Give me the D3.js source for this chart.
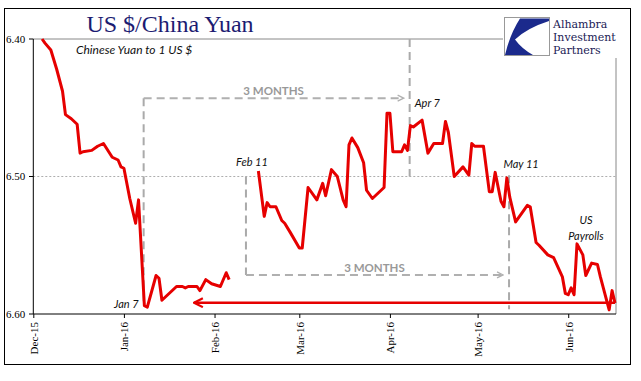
<!DOCTYPE html>
<html>
<head>
<meta charset="utf-8">
<script src="https://cdn.jsdelivr.net/npm/d3@7"></script>
<style>
    body { margin: 0; background: #fff; }
    svg { display: block; }
</style>
</head>
<body>
<svg id="chart"></svg>
<script>
// Yuan per 1 US $, Dec 2015 - Jun 2016 (y axis runs upside down)

const dates = [
    "2015-12-04", "2015-12-05", "2015-12-07", "2015-12-09", "2015-12-11", "2015-12-12",
    "2015-12-14", "2015-12-16", "2015-12-17", "2015-12-18", "2015-12-21", "2015-12-23",
    "2015-12-25", "2015-12-28", "2015-12-30", "2015-12-31", "2016-01-01", "2016-01-03",
    "2016-01-05", "2016-01-06", "2016-01-08", "2016-01-09", "2016-01-12", "2016-01-13",
    "2016-01-14", "2016-01-17", "2016-01-19", "2016-01-21", "2016-01-22", "2016-01-23",
    "2016-01-26", "2016-01-27", "2016-01-29", "2016-01-31", "2016-02-03", "2016-02-05",
    "2016-02-06", "2016-02-10",
    "2016-02-16", "2016-02-18", "2016-02-19", "2016-02-20", "2016-02-22", "2016-02-24",
    "2016-02-25", "2016-02-27", "2016-03-01", "2016-03-02", "2016-03-04", "2016-03-07",
    "2016-03-09", "2016-03-10", "2016-03-12", "2016-03-14", "2016-03-16", "2016-03-17",
    "2016-03-18", "2016-03-19", "2016-03-21", "2016-03-23", "2016-03-24", "2016-03-26",
    "2016-03-28", "2016-03-30", "2016-03-31", "2016-04-01", "2016-04-02", "2016-04-05",
    "2016-04-06", "2016-04-07", "2016-04-08", "2016-04-09", "2016-04-12", "2016-04-14",
    "2016-04-16", "2016-04-19", "2016-04-20", "2016-04-21", "2016-04-23", "2016-04-26",
    "2016-04-28", "2016-04-29", "2016-04-30", "2016-05-03", "2016-05-05", "2016-05-06",
    "2016-05-07", "2016-05-09", "2016-05-10", "2016-05-11", "2016-05-12", "2016-05-14",
    "2016-05-18", "2016-05-19", "2016-05-21", "2016-05-22", "2016-05-25", "2016-05-27",
    "2016-05-30", "2016-05-31", "2016-06-01", "2016-06-02", "2016-06-03", "2016-06-04",
    "2016-06-06", "2016-06-07", "2016-06-09", "2016-06-11", "2016-06-12", "2016-06-15",
    "2016-06-16", "2016-06-17"
]

const yuan = [
    6.400, 6.403, 6.408, 6.422, 6.438, 6.455,
    6.458, 6.462, 6.483, 6.482, 6.481, 6.478,
    6.476, 6.486, 6.488, 6.493, 6.494, 6.516,
    6.534, 6.517, 6.594, 6.595, 6.572, 6.574,
    6.590, 6.584, 6.580, 6.580, 6.581, 6.580,
    6.580, 6.583, 6.575, 6.578, 6.580, 6.570,
    6.575, null,   // gap: lunar new year holiday
    6.496, 6.529, 6.519, 6.522, 6.522, 6.532,
    6.534, 6.541, 6.552, 6.552, 6.508, 6.517,
    6.505, 6.514, 6.495, 6.500, 6.517, 6.522,
    6.477, 6.472, 6.479, 6.490, 6.510, 6.516,
    6.512, 6.508, 6.454, 6.454, 6.482, 6.482,
    6.477, 6.481, 6.463, 6.464, 6.459, 6.483,
    6.476, 6.476, 6.460, 6.468, 6.500, 6.493,
    6.499, 6.476, 6.478, 6.478, 6.511, 6.511,
    6.497, 6.518, 6.522, 6.501, 6.515, 6.533,
    6.521, 6.522, 6.548, 6.550, 6.557, 6.559,
    6.573, 6.585, 6.586, 6.581, 6.586, 6.549,
    6.557, 6.572, 6.563, 6.564, 6.573, 6.597,
    6.583, 6.592
]

const yTicks = [6.40, 6.50, 6.60]
const monthTicks = ["2015-12-01", "2016-01-01", "2016-02-01", "2016-03-01", "2016-04-01", "2016-05-01", "2016-06-01"]

// dashed event lines: date, top value, bottom value
const eventDates = ["2016-01-07", "2016-02-11", "2016-04-07", "2016-05-11"]
const eventTop = [6.443, 6.500, 6.400, 6.499]
const eventBottom = [6.594, 6.5716, 6.500, 6.5965]

// "3 MONTHS" brackets
const spanFrom = ["2016-01-07", "2016-02-11"]
const spanTo = ["2016-04-07", "2016-05-11"]
const spanLevel = [6.443, 6.5716]

// red arrow back to the January low
const lowLevel = 6.5918
const arrowFrom = "2016-06-17"
const arrowTo = "2016-01-25"

const W = 641, H = 381
const parse = d3.timeParse("%Y-%m-%d")

const data = dates.map((d, i) => ({ date: parse(d), value: yuan[i] }))

const svg = d3.select("#chart").attr("width", W).attr("height", H)

const x = d3.scaleTime()
    .domain([parse("2015-12-01"), parse("2016-06-17")])
    .range([33.3, 615])

const y = d3.scaleLinear()
    .domain([6.40, 6.60])
    .range([39, 314])

// shift event lines a bit into the day, like the hand-drawn shapes
const eventX = d => x(d3.timeHour.offset(parse(d), 18))

const serif = "'Liberation Serif', 'Times New Roman', serif"
const sans = "Lato, 'Open Sans', sans-serif"

// outer frame
svg.append("rect")
    .attr("x", 4.5).attr("y", 8.5)
    .attr("width", 626).attr("height", 356)
    .attr("fill", "none").attr("stroke", "#000")

// plot frame (top and right, grey)
svg.append("line")
    .attr("x1", x.range()[0]).attr("x2", 503)
    .attr("y1", y(6.40)).attr("y2", y(6.40))
    .attr("stroke", "#888").attr("stroke-width", 1)
svg.append("line")
    .attr("x1", 616).attr("x2", 616)
    .attr("y1", 58).attr("y2", y(6.60))
    .attr("stroke", "#888").attr("stroke-width", 1)

// middle grid line
svg.append("line")
    .attr("x1", x.range()[0]).attr("x2", 616)
    .attr("y1", y(6.50)).attr("y2", y(6.50))
    .attr("stroke", "#999").attr("stroke-width", 0.8)
    .attr("stroke-dasharray", "2,2")

// title
svg.append("text")
    .attr("x", 170).attr("y", 32)
    .attr("text-anchor", "middle")
    .style("font-family", serif).style("font-size", "24px")
    .attr("fill", "#1c1c72")
    .text("US $/China Yuan")

svg.append("text")
    .attr("x", 76).attr("y", 54)
    .style("font-family", sans).style("font-size", "12px").style("font-style", "italic")
    .attr("fill", "#111")
    .text("Chinese Yuan to 1 US $")

// logo
const logo = svg.append("g")
logo.append("rect")
    .attr("x", 504.5).attr("y", 17.5).attr("width", 45).attr("height", 38)
    .attr("fill", "#fff").attr("stroke", "#999")
logo.append("path")
    .attr("d", "M520,18.5 L549,18.5 L549,21 Q527,28 515,39.5 Q521.5,48.5 533,55 L505,55 Q510,34 520,18.5 Z")
    .attr("fill", "#1b2a8c")
logo.selectAll("text.logo")
    .data(["Alhambra", "Investment", "Partners"])
    .enter()
    .append("text")
    .attr("class", "logo")
    .attr("x", 553)
    .attr("y", (d, i) => 28 + i * 13)
    .style("font-family", "'DejaVu Serif', serif").style("font-size", "11px")
    .attr("fill", "#1a1a55")
    .text(d => d)

// y axis
svg.append("line")
    .attr("x1", x.range()[0]).attr("x2", x.range()[0])
    .attr("y1", y(6.40)).attr("y2", y(6.60))
    .attr("stroke", "#000")
svg.selectAll("line.ytick")
    .data(yTicks)
    .enter()
    .append("line")
    .attr("class", "ytick")
    .attr("x1", 29).attr("x2", x.range()[0])
    .attr("y1", d => y(d)).attr("y2", d => y(d))
    .attr("stroke", "#000")
svg.selectAll("text.ylab")
    .data(yTicks)
    .enter()
    .append("text")
    .attr("class", "ylab")
    .attr("x", 6)
    .attr("y", d => y(d))
    .attr("dy", "0.35em")
    .style("font-family", serif).style("font-size", "11px")
    .attr("fill", "#000")
    .text(d => d.toFixed(2))

// x axis
const xAxis = d3.axisBottom(x)
    .tickValues(monthTicks.map(parse))
    .tickFormat(d3.timeFormat("%b-%y"))
    .tickSize(4)
    .tickSizeOuter(0)

const gx = svg.append("g")
    .attr("transform", `translate(0,${y(6.60)})`)
    .call(xAxis)

gx.select(".domain").attr("d", `M${x.range()[0]},0H616`).attr("stroke", "#000")
gx.selectAll(".tick line").attr("stroke", "#000")
gx.selectAll(".tick text")
    .attr("transform", "rotate(-90)")
    .attr("x", -8).attr("y", 0).attr("dy", "0.35em")
    .attr("text-anchor", "end")
    .style("font-family", serif).style("font-size", "11px")
    .attr("fill", "#000")

// arrow heads
const defs = svg.append("defs")
defs.append("marker")
    .attr("id", "greyHead")
    .attr("viewBox", "0 0 8 8")
    .attr("refX", 7).attr("refY", 4)
    .attr("markerWidth", 8).attr("markerHeight", 8)
    .attr("markerUnits", "userSpaceOnUse")
    .attr("orient", "auto")
    .append("path")
    .attr("d", "M1,1 L7,4 L1,7")
    .attr("fill", "none").attr("stroke", "#b0b0b0").attr("stroke-width", 1.3)
defs.append("marker")
    .attr("id", "redHead")
    .attr("viewBox", "0 0 10 10")
    .attr("refX", 9).attr("refY", 5)
    .attr("markerWidth", 11).attr("markerHeight", 11)
    .attr("markerUnits", "userSpaceOnUse")
    .attr("orient", "auto")
    .append("path")
    .attr("d", "M1,1 L9,5 L1,9")
    .attr("fill", "none").attr("stroke", "#e60000").attr("stroke-width", 2)

// dashed event lines
svg.selectAll("line.event")
    .data(eventDates)
    .enter()
    .append("line")
    .attr("class", "event")
    .attr("x1", d => eventX(d)).attr("x2", d => eventX(d))
    .attr("y1", (d, i) => y(eventTop[i]))
    .attr("y2", (d, i) => y(eventBottom[i]))
    .attr("stroke", "#aaa").attr("stroke-width", 2)
    .attr("stroke-dasharray", "8,5")

// 3 month brackets
spanFrom.forEach((d, i) => {
    const x0 = eventX(d)
    const x1 = eventX(spanTo[i]) - 6
    svg.append("line")
        .attr("x1", x0).attr("x2", x1)
        .attr("y1", y(spanLevel[i])).attr("y2", y(spanLevel[i]))
        .attr("stroke", "#b0b0b0").attr("stroke-width", 2)
        .attr("stroke-dasharray", "8,5")
        .attr("marker-end", "url(#greyHead)")
    svg.append("text")
        .attr("x", (x0 + x1) / 2)
        .attr("y", y(spanLevel[i]) - 3)
        .attr("text-anchor", "middle")
        .style("font-family", sans).style("font-size", "11.5px").style("font-weight", "bold")
        .attr("fill", "#999")
        .text("3 MONTHS")
})

// red arrow back to the low
svg.append("line")
    .attr("x1", x(parse(arrowFrom))).attr("x2", x(parse(arrowTo)))
    .attr("y1", y(lowLevel)).attr("y2", y(lowLevel))
    .attr("stroke", "#e60000").attr("stroke-width", 2.5)
    .attr("marker-end", "url(#redHead)")

// the yuan line
const line = d3.line()
    .defined(d => d.value != null)
    .x(d => x(d.date))
    .y(d => y(d.value))

svg.append("path")
    .datum(data)
    .attr("d", line)
    .attr("fill", "none")
    .attr("stroke", "#e60000")
    .attr("stroke-width", 3)
    .attr("stroke-linejoin", "round")

// labels
const note = (txt, px, py, anchor) => svg.append("text")
    .attr("x", px).attr("y", py)
    .attr("text-anchor", anchor)
    .style("font-family", sans).style("font-size", "11px").style("font-style", "italic")
    .attr("fill", "#111")
    .text(txt)

note("Jan 7", eventX(eventDates[0]) - 5, y(6.5956), "end")
note("Feb 11", eventX(eventDates[1]) + 6, y(6.4924), "middle")
note("Apr 7", eventX(eventDates[2]) + 5, y(6.4495), "start")
note("May 11", eventX(eventDates[3]) + 12, y(6.4935), "middle")
note("US", x(parse("2016-06-04")) + 9, y(6.5345), "middle")
note("Payrolls", x(parse("2016-06-04")) + 9, y(6.5462), "middle")
</script>
</body>
</html>
